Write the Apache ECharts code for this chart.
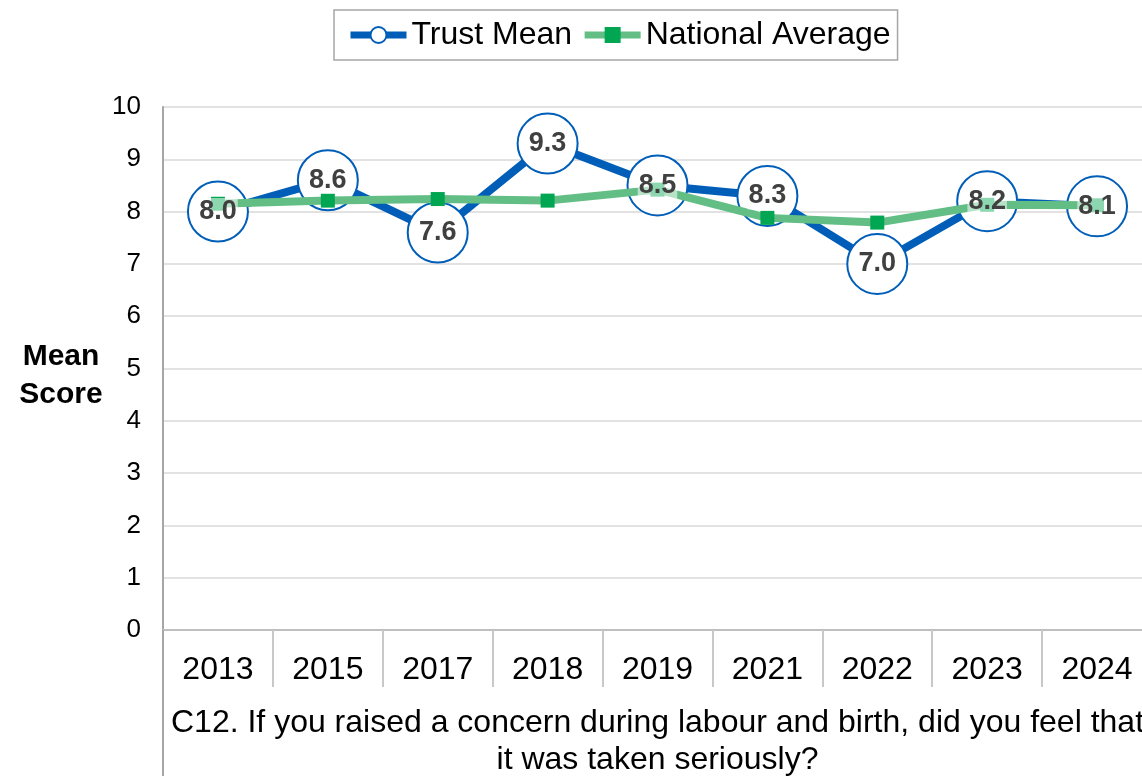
<!DOCTYPE html>
<html>
<head>
<meta charset="utf-8">
<style>
  html, body { margin: 0; padding: 0; background: #fff; }
  #chart { width: 1142px; height: 776px; }
</style>
<script src="https://cdn.jsdelivr.net/npm/echarts@6/dist/echarts.min.js"></script>
</head>
<body>
<div id="chart"></div>
<script>
// Survey years
const years = ['2013', '2015', '2017', '2018', '2019', '2021', '2022', '2023', '2024'];
// Trust mean score per year
const trustMean = [8.0, 8.6, 7.6, 9.3, 8.5, 8.3, 7.0, 8.2, 8.1];
// National average per year
const nationalAverage = [8.15, 8.21, 8.24, 8.21, 8.42, 7.88, 7.79, 8.13, 8.12];
// Y axis range
const yMin = 0, yMax = 10, yStep = 1;

const FONT = 'Liberation Sans, Arial, sans-serif';
const BLUE = '#005EB8';
const GREEN_LINE = '#62BE84';
const GREEN_MARK = '#00A651';

const chart = echarts.init(document.getElementById('chart'), null, { renderer: 'canvas' });

chart.setOption({
  animation: false,
  backgroundColor: '#ffffff',
  textStyle: { fontFamily: FONT },
  legend: {
    data: [
      { name: 'Trust Mean', lineStyle: { width: 7, color: BLUE } },
      { name: 'National Average', lineStyle: { width: 7, color: GREEN_LINE } }
    ],
    left: 334,
    top: 10,
    orient: 'horizontal',
    padding: [8, 7, 8, 13],
    borderColor: '#A6A6A6',
    borderWidth: 1.5,
    itemWidth: 56,
    itemHeight: 20,
    itemGap: 9,
    textStyle: { fontFamily: FONT, fontSize: 32, color: '#000', lineHeight: 34 }
  },
  grid: { left: 163, right: -10, top: 107, bottom: 146, containLabel: false, outerBoundsMode: 'none' },
  xAxis: {
    type: 'category',
    data: years,
    boundaryGap: true,
    axisLine: { show: true, lineStyle: { color: '#BFBFBF', width: 2 } },
    axisTick: { show: true, length: 57, lineStyle: { color: '#C8C8C8', width: 2 } },
    axisLabel: { fontFamily: FONT, fontSize: 32, color: '#000', margin: 24 },
    name: 'C12. If you raised a concern during labour and birth, did you feel that\nit was taken seriously?',
    nameLocation: 'middle',
    nameGap: 75,
    nameTextStyle: { fontFamily: FONT, fontSize: 32, color: '#000', lineHeight: 37, align: 'center' },
    splitLine: { show: false }
  },
  yAxis: {
    type: 'value',
    min: yMin,
    max: yMax,
    interval: yStep,
    axisLine: { show: true, lineStyle: { color: '#A6A6A6', width: 2 } },
    axisTick: { show: false },
    axisLabel: { fontFamily: FONT, fontSize: 26, color: '#000', margin: 22 },
    splitLine: { show: true, lineStyle: { color: '#D9D9D9', width: 1.5 } },
    // a thin spacer line above the two-line title nudges it below the axis middle
    name: '{s| }\n{t|Mean}\n{t|Score}',
    nameLocation: 'middle',
    nameRotate: 0,
    nameGap: 102,
    nameTextStyle: {
      fontFamily: FONT, fontSize: 30, fontWeight: 'bold', color: '#000',
      align: 'center', verticalAlign: 'middle',
      rich: {
        s: { fontSize: 1, lineHeight: 15 },
        t: { fontFamily: FONT, fontSize: 30, fontWeight: 'bold', color: '#000', lineHeight: 38 }
      }
    }
  },
  series: [
    {
      name: 'Trust Mean',
      type: 'line',
      data: trustMean,
      z: 2,
      lineStyle: { color: BLUE, width: 8 },
      symbol: 'circle',
      symbolSize: 60,
      itemStyle: { color: '#FFFFFF', borderColor: BLUE, borderWidth: 2 },
      label: { show: false }
    },
    {
      name: 'National Average',
      type: 'line',
      data: nationalAverage,
      z: 3,
      lineStyle: { color: GREEN_LINE, width: 8 },
      symbol: 'rect',
      symbolSize: 14,
      itemStyle: { color: GREEN_MARK },
      label: { show: false }
    },
    {
      // Value labels of the trust mean, drawn above the national average line
      name: 'Trust Mean values',
      type: 'line',
      data: trustMean,
      z: 4,
      silent: true,
      lineStyle: { width: 0, opacity: 0 },
      symbol: 'circle',
      symbolSize: 1,
      itemStyle: { color: 'rgba(0,0,0,0)' },
      label: {
        show: true,
        position: 'inside',
        formatter: p => p.value.toFixed(1),
        fontFamily: FONT,
        fontSize: 27,
        fontWeight: 'bold',
        color: '#404040',
        backgroundColor: 'rgba(255,255,255,0.55)',
        padding: [0, 1]
      }
    }
  ]
});

// Extend the value axis line down past the category labels
const origin = chart.convertToPixel({ xAxisIndex: 0, yAxisIndex: 0 }, [0, yMin]);
const gridLeft = chart.getModel().getComponent('grid').coordinateSystem.getRect().x;
chart.setOption({
  graphic: [{
    type: 'line',
    shape: { x1: gridLeft, y1: origin[1], x2: gridLeft, y2: 776 },
    style: { stroke: '#A6A6A6', lineWidth: 2 },
    z: 1
  }]
});
</script>
</body>
</html>
